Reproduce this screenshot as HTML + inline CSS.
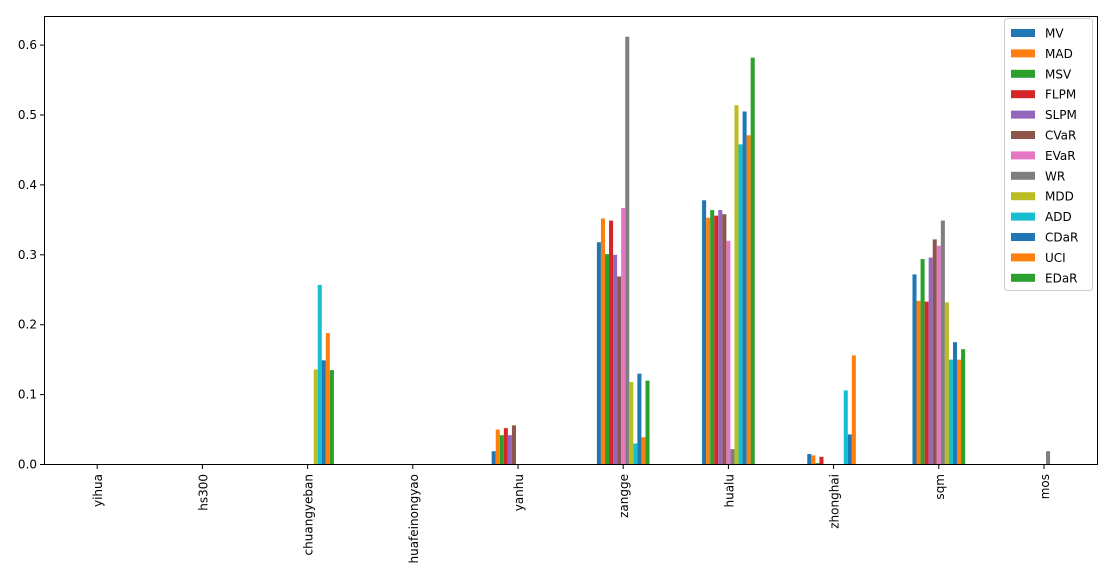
<!DOCTYPE html>
<html><head><meta charset="utf-8"><style>
body{margin:0;background:#fff}
svg{font-family:"DejaVu Sans","Liberation Sans",sans-serif}
</style></head><body>
<svg id="s" width="1108" height="581" xmlns="http://www.w3.org/2000/svg"></svg>
<script>
const s=document.getElementById('s');
const cols=['#1f77b4','#ff7f0e','#2ca02c','#d62728','#9467bd','#8c564b','#e377c2','#7f7f7f','#bcbd22','#17becf','#1f77b4','#ff7f0e','#2ca02c'];
const names=['MV','MAD','MSV','FLPM','SLPM','CVaR','EVaR','WR','MDD','ADD','CDaR','UCI','EDaR'];
const cats=['yihua','hs300','chuangyeban','huafeinongyao','yanhu','zangge','hualu','zhonghai','sqm','mos'];
const z=new Array(13).fill(0);
const data=[z,z,
[0,0,0,0,0,0,0,0,.136,.257,.149,.188,.135],
z,
[.019,.050,.042,.052,.042,.056,0,0,0,0,0,0,0],
[.318,.352,.301,.349,.300,.269,.367,.612,.118,.030,.130,.039,.120],
[.378,.353,.364,.356,.364,.358,.320,.022,.514,.458,.505,.471,.582],
[.015,.013,.002,.011,0,0,0,0,0,.106,.043,.156,0],
[.272,.234,.294,.233,.296,.322,.313,.349,.232,.150,.175,.150,.165],
[0,0,0,0,0,0,0,.019,0,0,0,0,0]];
let h='';
const y0=464.5,k=699;
const x0=97.2,dx=105.2,bw=4.05;
data.forEach((d,i)=>{const c=x0+dx*i;d.forEach((v,j)=>{if(v>0){const x=c-6.5*bw+j*bw;h+=`<rect x="${x}" y="${y0-v*k}" width="${bw}" height="${v*k}" fill="${cols[j]}"/>`;}});
h+=`<line x1="${c}" y1="465" x2="${c}" y2="469" stroke="#000"/>`;
h+=`<text transform="translate(${c+5},474) rotate(-90)" text-anchor="end" font-size="12">${cats[i]}</text>`;});
for(let t=0;t<=6;t++){const y=y0-t*0.1*k;h+=`<line x1="40" y1="${y}" x2="44" y2="${y}" stroke="#000"/><text x="37" y="${y+4}" text-anchor="end" font-size="12">${(t/10).toFixed(1)}</text>`;}
h+=`<rect x="44.5" y="16.5" width="1053" height="448" fill="none" stroke="#000"/>`;
h+=`<rect x="1004.5" y="18.5" width="88" height="272" rx="3" fill="#fff" fill-opacity="0.8" stroke="#ccc"/>`;
names.forEach((n,j)=>{const y=33+j*20.4;h+=`<rect x="1011" y="${y-4}" width="24" height="8" fill="${cols[j]}"/><text x="1045" y="${y+4.5}" font-size="12">${n}</text>`;});
s.innerHTML=h;
</script>
</body></html>
